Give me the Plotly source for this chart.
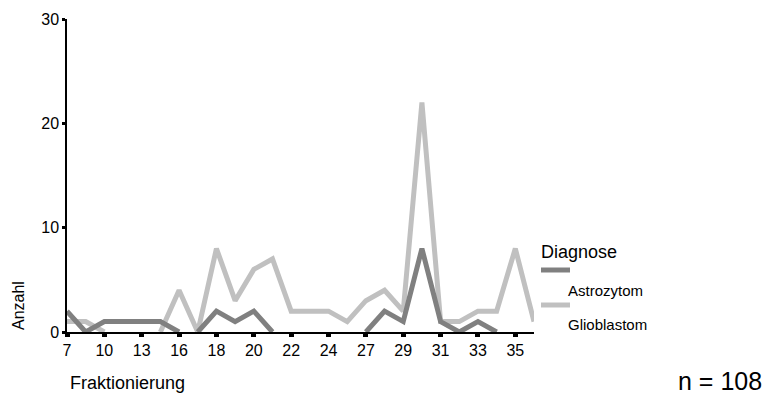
import plotly.graph_objects as go

categories = ["7", "9", "10", "12", "13", "15", "16", "17", "18", "19", "20", "21", "22",
              "23", "24", "25", "27", "28", "29", "30", "31", "32", "33", "34", "35", "36"]
tick_labels = ["7", "10", "13", "16", "18", "20", "22", "24", "27", "29", "31", "33", "35"]
astrozytom = [2, 0, 1, 1, 1, 1, 0, 0, 2, 1, 2, 0, 0, 0, 0, 0, 0, 2, 1, 8, 1, 0, 1, 0, 0, 0]
glioblastom = [1, 1, 0, 0, 0, 0, 4, 0, 8, 3, 6, 7, 2, 2, 2, 1, 3, 4, 2, 22, 1, 1, 2, 2, 8, 1]
series_names = ["Astrozytom", "Glioblastom"]
series_colors = ["#808080", "#c0c0c0"]

FONT = "Liberation Sans, Arial, sans-serif"


def segments(cats, vals):
    # flat runs at zero are not drawn (they sit on the axis)
    xs, ys = [], []
    for i, (c, v) in enumerate(zip(cats, vals)):
        xs.append(c)
        ys.append(v)
        if i < len(vals) - 1 and v == 0 and vals[i + 1] == 0:
            xs.append(c)
            ys.append(None)
    return xs, ys


fig = go.Figure()
for name, vals, col in zip(series_names[::-1], [glioblastom, astrozytom], series_colors[::-1]):
    xs, ys = segments(categories, vals)
    fig.add_trace(go.Scatter(x=xs, y=ys, mode="lines", name=name,
                             line=dict(color=col, width=5), connectgaps=False,
                             showlegend=False, cliponaxis=True))

fig.update_layout(
    width=769, height=407,
    margin=dict(l=67, r=235, t=19, b=75),
    paper_bgcolor="white", plot_bgcolor="white",
    font=dict(family=FONT, size=16, color="black"),
    showlegend=False,
)
fig.update_xaxes(
    type="category", categoryorder="array", categoryarray=categories,
    range=[0, len(categories) - 1],
    tickmode="array", tickvals=tick_labels, ticktext=tick_labels,
    ticks="outside", ticklen=3, tickwidth=5, tickcolor="black",
    showline=True, linecolor="black", linewidth=1.5,
    showgrid=False, zeroline=False,
    tickfont=dict(size=16, family=FONT),
)
fig.update_yaxes(
    range=[0, 30], tickvals=[0, 10, 20, 30],
    ticks="outside", ticklen=3, tickwidth=3, tickcolor="black",
    showline=True, linecolor="black", linewidth=1.5,
    showgrid=False, zeroline=False,
    tickfont=dict(size=16, family=FONT),
)

annotations = [
    dict(text="Anzahl", x=18, y=306, textangle=-90, size=16),
    dict(text="Fraktionierung", x=127, y=383, size=18),
    dict(text="n = 108", x=720, y=381, size=25),
    dict(text="Diagnose", x=579, y=252, size=18),
    dict(text="Astrozytom", x=605, y=290, size=15),
    dict(text="Glioblastom", x=607, y=324, size=15),
]
for a in annotations:
    fig.add_annotation(
        text=a["text"], xref="paper", yref="paper",
        x=(a["x"] - 67) / (769 - 67 - 235), y=(407 - 75 - a["y"]) / (407 - 19 - 75),
        xanchor="center", yanchor="middle", showarrow=False,
        textangle=a.get("textangle", 0),
        font=dict(size=a["size"], family=FONT, color="black"),
    )

# legend swatches
for col, yc in zip(series_colors, [270, 305]):
    fig.add_shape(type="line", xref="paper", yref="paper",
                  x0=(541 - 67) / 467, x1=(570 - 67) / 467,
                  y0=(332 - yc) / 313, y1=(332 - yc) / 313,
                  line=dict(color=col, width=5))

fig.write_html("out.html", config={"displayModeBar": False},
               post_script="document.body.style.margin='0px';document.body.style.overflow='hidden';")
